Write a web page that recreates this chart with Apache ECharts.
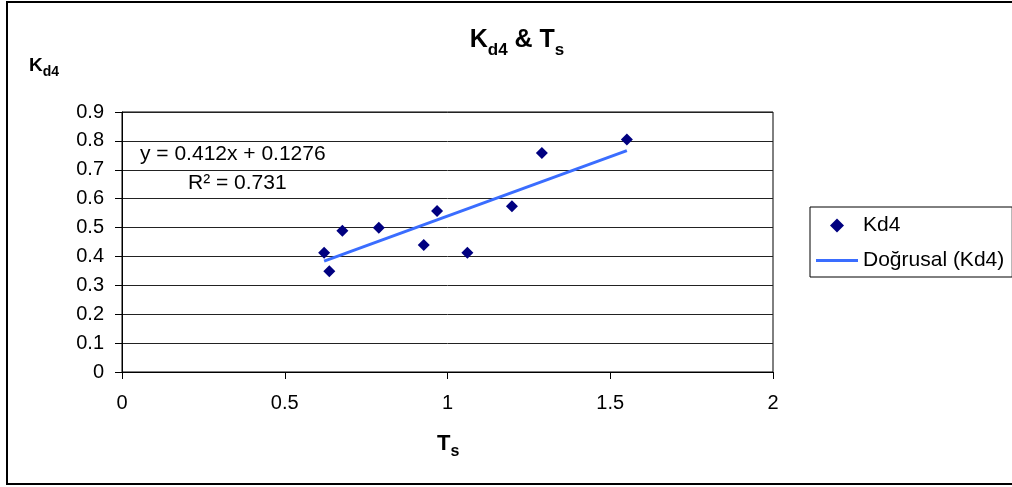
<!DOCTYPE html>
<html>
<head>
<meta charset="utf-8">
<script src="https://cdn.jsdelivr.net/npm/echarts@6/dist/echarts.min.js"></script>
<style>html,body{margin:0;padding:0;background:#fff;}#c{width:1012px;height:487px;}</style>
</head>
<body>
<div id="c"></div>
<script>
var tsValues = [0.621, 0.637, 0.677, 0.789, 0.927, 0.968, 1.061, 1.198, 1.290, 1.551];
var kd4Values = [0.413, 0.349, 0.489, 0.499, 0.440, 0.557, 0.413, 0.574, 0.758, 0.805];
var trendX = [0.621, 1.551];
var trendY = [0.3835, 0.7666];
var equationText = 'y = 0.412x + 0.1276';
var r2Text = 'R² = 0.731';

var FONT = '"Liberation Sans", Arial, sans-serif';
var scatterData = tsValues.map(function (x, i) { return [x, kd4Values[i]]; });
var trendData = trendX.map(function (x, i) { return [x, trendY[i]]; });

var chart = echarts.init(document.getElementById('c'));
chart.setOption({
  backgroundColor: '#fff',
  animation: false,
  textStyle: { fontFamily: FONT },
  title: {
    text: '{a|K}{b|d4}{a| & T}{b|s}',
    left: 512, top: 20, textAlign: 'center',
    textStyle: {
      rich: {
        a: { fontFamily: FONT, fontSize: 25, fontWeight: 'bold', color: '#000', lineHeight: 28, verticalAlign: 'bottom' },
        b: { fontFamily: FONT, fontSize: 17, fontWeight: 'bold', color: '#000', lineHeight: 28, verticalAlign: 'bottom', padding: [0, 0, -6, 0] }
      }
    }
  },
  legend: {
    orient: 'vertical',
    left: 810, top: 207,
    itemWidth: 42, itemHeight: 14,
    itemGap: 14,
    padding: [8, 8, 6, 6],
    borderColor: '#000', borderWidth: 1,
    symbolKeepAspect: true,
    textStyle: { fontFamily: FONT, fontSize: 21, color: '#000' },
    data: [
      { name: 'Kd4', icon: 'path://M5,0 L10,5 L5,10 L0,5 Z', itemStyle: { color: '#000080' } },
      { name: 'Doğrusal (Kd4)', icon: 'path://M0,0 L42,0 L42,3 L0,3 Z', itemStyle: { color: '#3a6dff' } }
    ]
  },
  grid: { left: 122, right: 239, top: 112, bottom: 115, show: true, borderColor: '#000', borderWidth: 1 },
  xAxis: {
    type: 'value', min: 0, max: 2, interval: 0.5,
    axisLine: { show: true, lineStyle: { color: '#000', width: 1 } },
    axisTick: { show: true, length: 7, lineStyle: { color: '#000' } },
    axisLabel: { margin: 21, fontFamily: FONT, fontSize: 20, color: '#000' },
    splitLine: { show: false }
  },
  yAxis: {
    type: 'value', min: 0, max: 0.9, interval: 0.1,
    axisLine: { show: true, lineStyle: { color: '#000', width: 1 } },
    axisTick: { show: true, length: 7, lineStyle: { color: '#000' } },
    axisLabel: { margin: 18, fontFamily: FONT, fontSize: 20, color: '#000' },
    splitLine: { show: true, lineStyle: { color: '#222', width: 1 } }
  },
  series: [
    {
      name: 'Kd4', type: 'scatter', symbol: 'diamond', symbolSize: 12,
      itemStyle: { color: '#000080', opacity: 1 },
      data: scatterData, z: 3
    },
    {
      name: 'Doğrusal (Kd4)', type: 'line', symbol: 'none', showSymbol: false,
      lineStyle: { color: '#3a6dff', width: 3 },
      itemStyle: { color: '#3a6dff' },
      data: trendData, z: 2
    }
  ],
  graphic: [
    { type: 'rect', shape: { x: 7, y: 2, width: 1012, height: 482 }, style: { fill: 'none', stroke: '#000', lineWidth: 2 }, silent: true },
    { type: 'text', left: 140, top: 144, style: { text: equationText, font: '21px ' + FONT, fill: '#000' } },
    { type: 'text', left: 188, top: 173, style: { text: r2Text, font: '21px ' + FONT, fill: '#000' } },
    { type: 'text', left: 29, top: 56, style: {
      text: '{a|K}{b|d4}',
      rich: {
        a: { fontFamily: FONT, fontSize: 19, fontWeight: 'bold', fill: '#000', lineHeight: 24, verticalAlign: 'bottom' },
        b: { fontFamily: FONT, fontSize: 14, fontWeight: 'bold', fill: '#000', lineHeight: 24, verticalAlign: 'bottom', padding: [0, 0, -4, 0] }
      } } },
    { type: 'text', left: 437, top: 433, style: {
      text: '{a|T}{b|s}',
      rich: {
        a: { fontFamily: FONT, fontSize: 22, fontWeight: 'bold', fill: '#000', lineHeight: 26, verticalAlign: 'bottom' },
        b: { fontFamily: FONT, fontSize: 16, fontWeight: 'bold', fill: '#000', lineHeight: 26, verticalAlign: 'bottom', padding: [0, 0, -5, 0] }
      } } }
  ]
});
</script>
</body>
</html>
